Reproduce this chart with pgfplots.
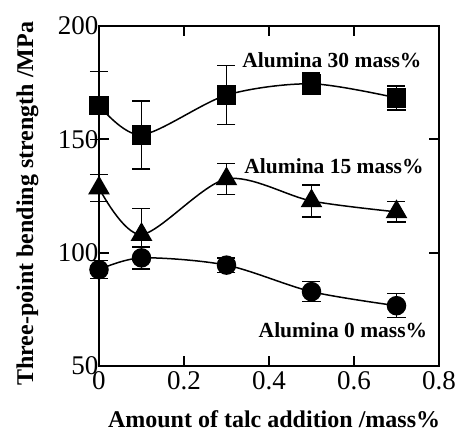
\documentclass[border=0pt]{standalone}
\usepackage{fontspec}
\setmainfont{Liberation Serif}
\usepackage{pgfplots}
\pgfplotsset{compat=1.18}
\usetikzlibrary{calc}
\begin{document}
\begin{tikzpicture}
\begin{axis}[
  name=ax,
  scale only axis, width=340bp, height=340bp,
  xmin=0, xmax=0.8, ymin=50, ymax=200,
  xtick={0,0.2,0.4,0.6,0.8}, ytick={50,100,150,200},
  xticklabels={0,0.2,0.4,0.6,0.8},
  /pgf/number format/assume math mode=true,
  tick label style={font=\fontsize{27bp}{28bp}\selectfont},
  tick align=inside, major tick length=10bp,
  every tick/.style={black, line width=2bp},
  axis line style={line width=2.5bp},
  xticklabel style={yshift=-2bp},
  yticklabel style={xshift=3bp},
  xlabel={\bfseries Amount of talc addition /mass\%},
  ylabel={\bfseries Three-point bending strength /MPa},
  label style={font=\fontsize{24bp}{26bp}\selectfont\bfseries},
  xlabel style={at={(axis description cs:0.515,0)}, anchor=base, yshift=-61bp},
  ylabel style={at={(axis description cs:0,0.477)}, anchor=south, yshift=57bp},
  clip=false,
]
\addplot[black, line width=1.5bp, smooth, mark=square*, mark size=9bp, mark options={solid},
  error bars/.cd, y dir=both, y explicit,
  error bar style={line width=1.5bp},
  error mark options={rotate=90, mark size=9bp, line width=1.5bp}]
coordinates {(0,165) +- (0,15) (0.1,152) +- (0,15) (0.3,169.5) +- (0,13) (0.5,174.5) +- (0,4.7) (0.7,168.3) +- (0,5.3)};
\addplot[black, line width=1.5bp, smooth, mark=triangle*, mark size=11bp, mark options={solid},
  error bars/.cd, y dir=both, y explicit,
  error bar style={line width=1.5bp},
  error mark options={rotate=90, mark size=9bp, line width=1.5bp}]
coordinates {(0,128.5) +- (0,6) (0.1,108) +- (0,11.5) (0.3,132.5) +- (0,6.8) (0.5,122.8) +- (0,7) (0.7,118) +- (0,4.5)};
\addplot[black, line width=1.5bp, smooth, mark=*, mark size=9bp, mark options={solid},
  error bars/.cd, y dir=both, y explicit,
  error bar style={line width=1.5bp},
  error mark options={rotate=90, mark size=9bp, line width=1.5bp}]
coordinates {(0,92.5) +- (0,4) (0.1,97.7) +- (0,4.9) (0.3,94.5) +- (0,3.2) (0.5,82.8) +- (0,4.4) (0.7,76.6) +- (0,5.3)};
\node[font=\fontsize{21.5bp}{23bp}\selectfont\bfseries] at (axis cs:0.548,185) {Alumina 30 mass\%};
\node[font=\fontsize{21.5bp}{23bp}\selectfont\bfseries] at (axis cs:0.553,138.2) {Alumina 15 mass\%};
\node[font=\fontsize{21.5bp}{23bp}\selectfont\bfseries] at (axis cs:0.574,65.8) {Alumina 0 mass\%};
\end{axis}
\pgfresetboundingbox
\path ($(ax.south west)+(-99bp,-68bp)$) rectangle ($(ax.north east)+(22bp,26bp)$);
\end{tikzpicture}
\end{document}
